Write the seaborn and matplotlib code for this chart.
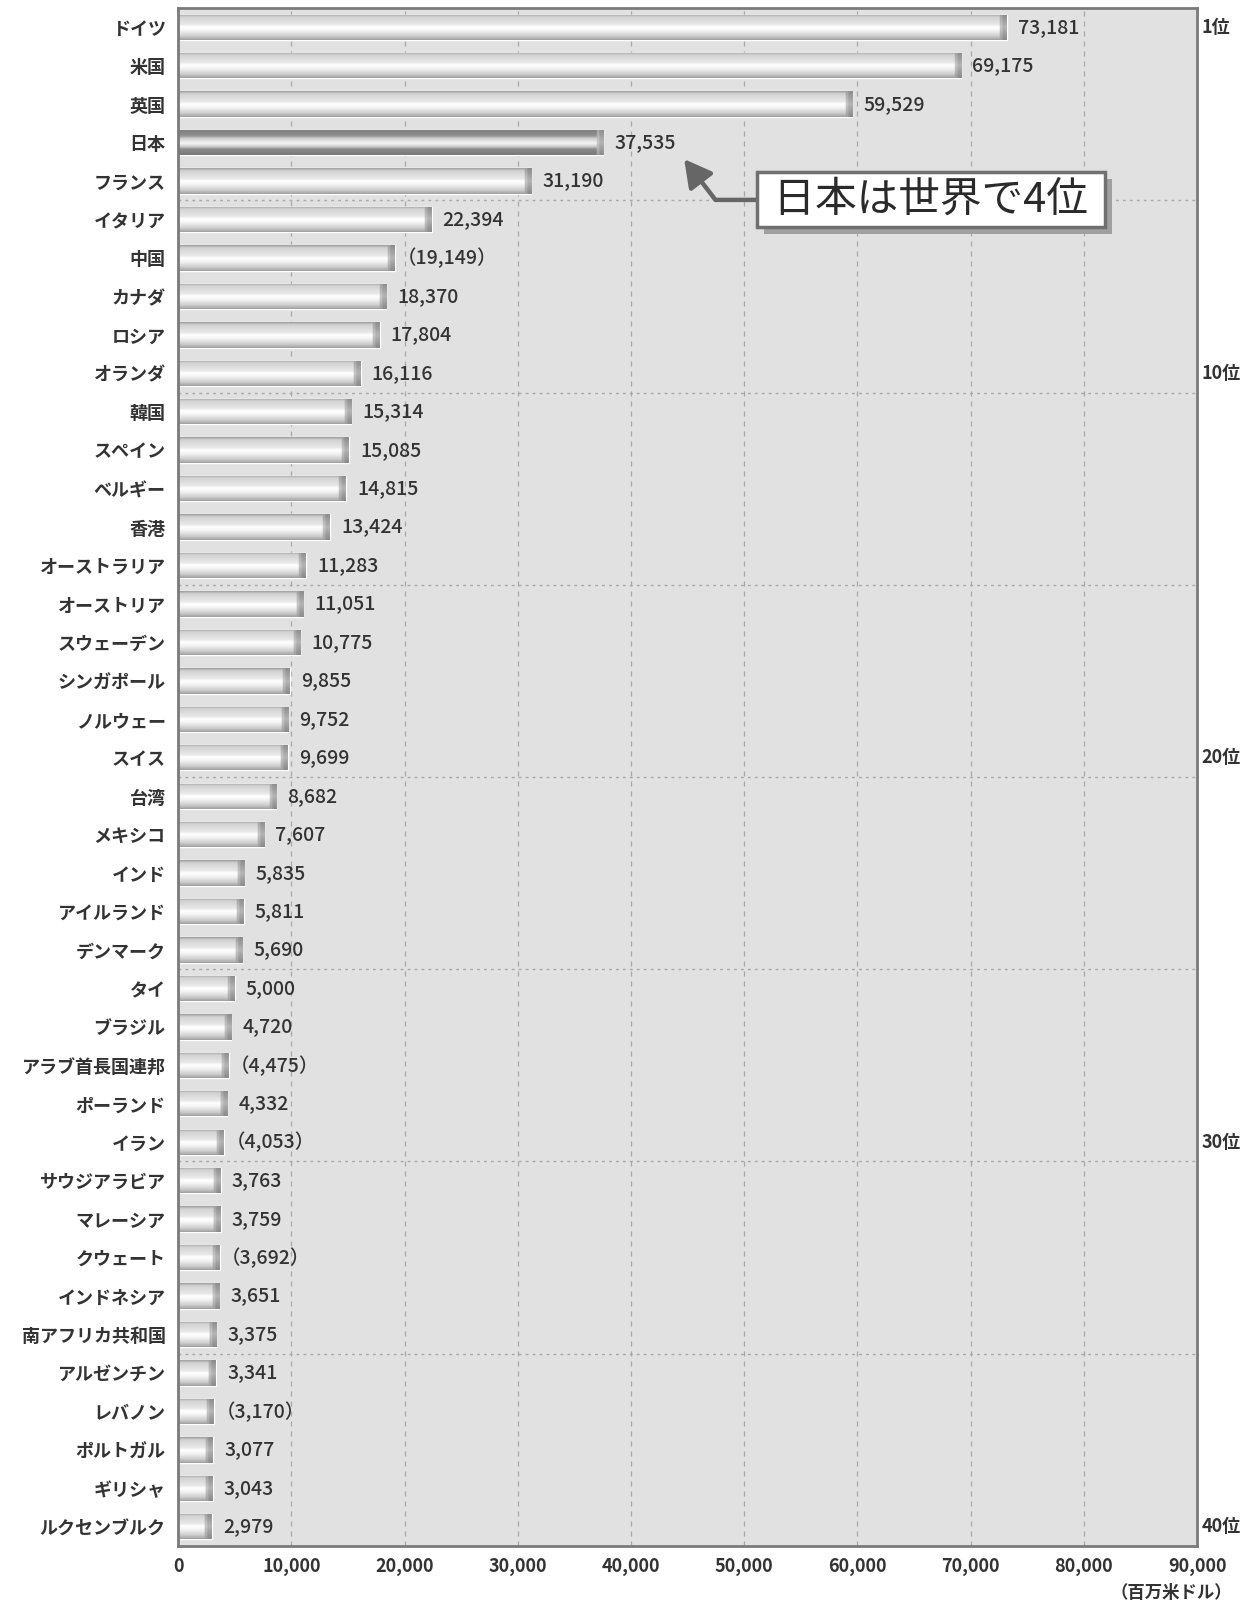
import numpy as np
import pandas as pd
import matplotlib
matplotlib.use("Agg")
import matplotlib.pyplot as plt
import seaborn as sns
from matplotlib.colors import LinearSegmentedColormap
import matplotlib.patheffects as pe
from matplotlib.transforms import blended_transform_factory

# ---------------- data ----------------
countries = ["ドイツ", "米国", "英国", "日本", "フランス", "イタリア", "中国", "カナダ", "ロシア", "オランダ",
             "韓国", "スペイン", "ベルギー", "香港", "オーストラリア", "オーストリア", "スウェーデン", "シンガポール", "ノルウェー", "スイス",
             "台湾", "メキシコ", "インド", "アイルランド", "デンマーク", "タイ", "ブラジル", "アラブ首長国連邦", "ポーランド", "イラン",
             "サウジアラビア", "マレーシア", "クウェート", "インドネシア", "南アフリカ共和国", "アルゼンチン", "レバノン", "ポルトガル", "ギリシャ", "ルクセンブルク"]
values = [73181, 69175, 59529, 37535, 31190, 22394, 19149, 18370, 17804, 16116,
          15314, 15085, 14815, 13424, 11283, 11051, 10775, 9855, 9752, 9699,
          8682, 7607, 5835, 5811, 5690, 5000, 4720, 4475, 4332, 4053,
          3763, 3759, 3692, 3651, 3375, 3341, 3170, 3077, 3043, 2979]
estimated = ["中国", "アラブ首長国連邦", "イラン", "クウェート", "レバノン"]
highlight = "日本"
rank_positions = [0, 9, 19, 29, 39]
rank_labels = ["1位", "10位", "20位", "30位", "40位"]
x_ticks = [0, 10000, 20000, 30000, 40000, 50000, 60000, 70000, 80000, 90000]
unit_label = "（百万米ドル）"
callout = "日本は世界で4位"

# ---------------- style ----------------
sns.set_style("white")
plt.rcParams["font.family"] = ["Noto Sans CJK JP", "DejaVu Sans"]
txt_color = "#333333"

fig = plt.figure(figsize=(12.53, 16.07), dpi=100)
ax = fig.add_axes([0.1421, 0.038, 0.8133, 0.957])
ax.set_facecolor("#e1e1e1")

df = pd.DataFrame({"country": countries, "value": values})
sns.barplot(data=df, x="value", y="country", orient="h", color="#d8d8d8",
            saturation=1, width=0.66, ax=ax, zorder=3)

# gradient profiles (top -> bottom)
body_cmap = LinearSegmentedColormap.from_list("body", [
    (0.0, "#a0a0a0"), (0.10, "#d2d2d2"), (0.40, "#e8e8e8"), (0.50, "#ffffff"),
    (0.62, "#f6f6f6"), (0.86, "#cccccc"), (1.0, "#a0a0a0")])
dark_cmap = LinearSegmentedColormap.from_list("dark", [
    (0.0, "#7e7e7e"), (0.25, "#909090"), (0.36, "#cfcfcf"), (0.55, "#f6f6f6"),
    (0.68, "#cbcbcb"), (0.78, "#8a8a8a"), (1.0, "#7a7a7a")])
cap_cmap = LinearSegmentedColormap.from_list("cap", [
    (0.0, "#8c8c8c"), (0.5, "#b4b4b4"), (1.0, "#8a8a8a")])
cap_w = 620.0

patches = list(ax.patches)
for name, p in zip(countries, patches):
    x0, y0, w, h = p.get_x(), p.get_y(), p.get_width(), p.get_height()
    nrow, ncol = 60, max(int(w / 40), 30)
    fy = np.linspace(0, 1, nrow)
    cmap = dark_cmap if name == highlight else body_cmap
    col_body = cmap(fy)[:, :3]
    col_cap = cap_cmap(fy)[:, :3]
    img = np.repeat(col_body[:, None, :], ncol, axis=1)
    xs = np.linspace(0, w, ncol)
    capmask = xs > (w - cap_w)
    img[:, capmask, :] = col_cap[:, None, :]
    rim = (xs > (w - cap_w)) & (xs < (w - cap_w * 0.6))
    img[:, rim, :] = np.clip(col_cap[:, None, :] + 0.08, 0, 1)
    im = ax.imshow(img, extent=(x0, x0 + w, y0 + h, y0), origin="upper",
                   aspect="auto", zorder=4, interpolation="bilinear")
    im.set_clip_path(p)

ax.set_xlim(0, 90000)
ax.set_ylim(len(countries) - 0.5, -0.5)

# grid
for xv in x_ticks[1:-1]:
    ax.axvline(xv, color="#a8a8a8", lw=0.9, ls=(0, (4, 4)), zorder=1)
for k in range(5, len(countries), 5):
    ax.axhline(k - 0.5, color="#a8a8a8", lw=1.0, ls=(0, (2, 3)), zorder=1)

# value labels
for i, (name, v) in enumerate(zip(countries, values)):
    s = f"{v:,}"
    if name in estimated:
        s = f"（{s}）"
        off = 1
    else:
        off = 8
    ax.annotate(s, xy=(v, i), xytext=(off, 0), textcoords="offset points",
                ha="left", va="center", fontsize=14, fontweight="medium",
                color=txt_color, zorder=6)

# rank labels on right
tr = blended_transform_factory(ax.transAxes, ax.transData)
for pos, lab in zip(rank_positions, rank_labels):
    ax.text(1.004, pos, lab, transform=tr, ha="left", va="center",
            fontsize=13, fontweight="bold", color=txt_color)

# axes ticks
ax.set_xticks(x_ticks)
ax.set_xticklabels([f"{t:,}" for t in x_ticks], fontsize=13, fontweight="bold", color=txt_color)
ax.tick_params(axis="x", length=0, pad=8)
ax.tick_params(axis="y", length=0, pad=9)
for lab in ax.get_yticklabels():
    lab.set_fontsize(13)
    lab.set_fontweight("bold")
    lab.set_color(txt_color)
ax.set_xlabel("")
ax.set_ylabel("")

for side, sp in ax.spines.items():
    sp.set_visible(True)
    sp.set_color("#7a7a7a")
    sp.set_linewidth(2.0)
    sp.set_zorder(7)

fig.text(0.983, 0.003, unit_label, ha="right", va="bottom", fontsize=12.5,
         fontweight="bold", color=txt_color)

# callout
ann = ax.annotate(" " + callout + " ", xy=(44700, 3.43), xytext=(66500, 4.49),
                  ha="center", va="center", fontsize=30, color="#2a2a2a", zorder=8,
                  bbox=dict(boxstyle="square,pad=0.17", fc="white", ec="#707070", lw=2.5),
                  arrowprops=dict(arrowstyle="-|>,head_length=0.55,head_width=0.3",
                                  color="#666666", lw=3.2, relpos=(0, 0.5),
                                  connectionstyle="angle,angleA=0,angleB=127.5,rad=0",
                                  shrinkA=0, shrinkB=0))
ann.get_bbox_patch().set_path_effects([
    pe.SimplePatchShadow(offset=(5, -5), shadow_rgbFace="#a0a0a0", alpha=1.0),
    pe.Normal()])

fig.savefig("out.png", dpi=100, facecolor="white")
